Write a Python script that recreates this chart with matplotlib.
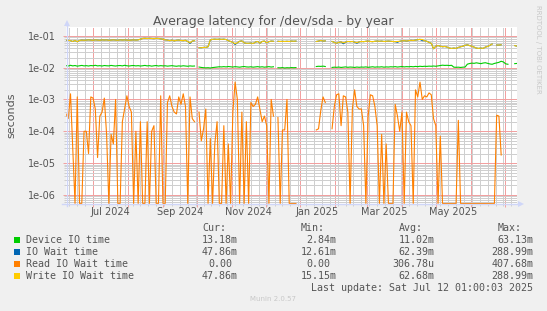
import numpy as np
import pandas as pd
import matplotlib
matplotlib.use('Agg')
import matplotlib.pyplot as plt
import matplotlib.dates as mdates
import matplotlib.transforms as mtransforms
from matplotlib.lines import Line2D
from matplotlib.patches import Rectangle
from matplotlib.ticker import LogLocator, FuncFormatter, NullFormatter

nan = np.nan

# one value every 2 days, starting at the left edge of the graph
start_date = '2024-06-07'
step_days = 2

device_io = [
    0.0115, 0.0112, 0.0118, 0.0113, 0.0116, 0.0111, 0.0114, 0.0117, 0.0113, 0.0115,
    0.0112, 0.0116, 0.0114, 0.0118, 0.0113, 0.0115, 0.0112, 0.0116, 0.0114, 0.0113,
    0.0117, 0.0114, 0.0112, 0.0115, 0.0116, 0.0113, 0.0118, 0.0114, 0.0112, 0.0115,
    0.0116, 0.0113, 0.0115, 0.0112, 0.0114, 0.0117, 0.0113, 0.0115, 0.0111, 0.0114,
    0.0116, 0.0112, 0.0115, 0.0113, 0.0114, 0.0111, 0.0113, 0.0115, 0.0112, 0.0110,
    0.0113, 0.0111, 0.0114, 0.0112, 0.0110, 0.0113, 0.0111, 0.0112, nan, 0.0104,
    0.0101, 0.0099, 0.0098, 0.0099, 0.0097, 0.0100, 0.0102, 0.0104, 0.0106, 0.0105,
    0.0107, 0.0105, 0.0108, 0.0106, 0.0104, 0.0107, 0.0105, 0.0103, 0.0106, 0.0108,
    0.0105, 0.0104, 0.0106, 0.0103, 0.0105, 0.0107, 0.0104, 0.0106, 0.0103, 0.0105,
    0.0107, 0.0104, 0.0106, nan, 0.0099, 0.0098, 0.0100, 0.0097, 0.0099, 0.0098,
    0.0100, 0.0099, 0.0100, nan, nan, nan, nan, nan, nan, nan,
    nan, 0.0108, 0.0110, 0.0109, 0.0111, 0.0108, nan, nan, 0.0101, 0.0103,
    0.0102, 0.0104, 0.0101, 0.0103, 0.0105, 0.0102, 0.0104, 0.0103, 0.0101, 0.0104,
    0.0102, 0.0104, 0.0103, 0.0105, 0.0102, 0.0104, 0.0106, 0.0103, 0.0105, 0.0104,
    0.0106, 0.0103, 0.0105, 0.0104, 0.0106, 0.0105, 0.0107, 0.0104, 0.0106, 0.0108,
    0.0105, 0.0107, 0.0106, 0.0108, 0.0106, 0.0109, 0.0107, 0.0110, 0.0108, 0.0110,
    0.0109, 0.0111, 0.0110, 0.0112, 0.0110, 0.0113, 0.0117, 0.0119, 0.0117, 0.0118,
    0.0116, 0.0118, 0.0103, 0.0102, 0.0103, 0.0101, 0.0103, 0.0104, 0.0128, 0.0134,
    0.0138, 0.0136, 0.0141, 0.0137, 0.0133, 0.0139, 0.0142, 0.0136, 0.0130, 0.0127,
    0.0135, 0.0140, 0.0146, 0.0158, 0.0150, 0.0131, 0.0127, nan, nan, 0.0133,
    0.0135,
]

write_wait = [
    0.074, 0.072, 0.070, 0.066, 0.071, 0.065, 0.071, 0.073, 0.072, 0.073,
    0.074, 0.073, 0.072, 0.074, 0.073, 0.072, 0.074, 0.073, 0.074, 0.072,
    0.073, 0.074, 0.073, 0.072, 0.074, 0.073, 0.074, 0.073, 0.072, 0.073,
    0.074, 0.073, 0.074, 0.078, 0.082, 0.083, 0.082, 0.083, 0.082, 0.081,
    0.083, 0.082, 0.080, 0.078, 0.074, 0.073, 0.070, 0.073, 0.069, 0.072,
    0.073, 0.071, 0.070, 0.072, 0.066, 0.060, 0.068, 0.070, nan, 0.042,
    0.042, 0.043, 0.043, 0.045, 0.074, 0.077, 0.078, 0.077, 0.078, 0.077,
    0.078, 0.076, 0.070, 0.066, 0.062, 0.056, 0.060, 0.067, 0.069, 0.060,
    0.058, 0.058, 0.059, 0.057, 0.063, 0.066, 0.058, 0.066, 0.068, 0.060,
    0.065, 0.068, 0.067, nan, 0.067, 0.066, 0.067, 0.066, 0.067, 0.066,
    0.068, 0.067, 0.068, nan, nan, nan, nan, nan, nan, nan,
    nan, 0.066, 0.068, 0.071, 0.068, 0.069, nan, nan, 0.066, 0.062,
    0.058, 0.062, 0.064, 0.060, 0.063, 0.066, 0.065, 0.066, 0.063, 0.061,
    0.064, 0.066, 0.065, 0.067, 0.068, 0.066, 0.065, 0.067, 0.068, 0.067,
    0.068, 0.066, 0.067, 0.068, 0.067, 0.066, 0.065, 0.066, 0.067, 0.069,
    0.070, 0.068, 0.070, 0.072, 0.071, 0.073, 0.075, 0.077, 0.076, 0.070,
    0.067, 0.062, 0.058, 0.039, 0.047, 0.049, 0.047, 0.045, 0.046, 0.044,
    0.041, 0.040, 0.041, 0.040, 0.043, 0.045, 0.047, 0.050, 0.052, 0.049,
    0.047, 0.044, 0.041, 0.040, 0.041, 0.040, 0.044, 0.046, 0.050, 0.055,
    nan, 0.051, 0.051, 0.052, nan, nan, nan, nan, nan, 0.049,
    0.047,
]

io_wait = [
    0.071, 0.072, 0.070, 0.066, 0.071, 0.065, 0.071, 0.073, 0.072, 0.073,
    0.074, 0.073, 0.072, 0.074, 0.073, 0.072, 0.074, 0.073, 0.074, 0.072,
    0.073, 0.074, 0.073, 0.072, 0.074, 0.073, 0.074, 0.073, 0.072, 0.073,
    0.074, 0.073, 0.074, 0.078, 0.082, 0.083, 0.082, 0.083, 0.082, 0.081,
    0.083, 0.082, 0.080, 0.078, 0.074, 0.073, 0.070, 0.073, 0.069, 0.072,
    0.073, 0.071, 0.070, 0.072, 0.066, 0.057, 0.068, 0.070, nan, 0.042,
    0.042, 0.043, 0.043, 0.045, 0.074, 0.077, 0.078, 0.077, 0.078, 0.077,
    0.078, 0.076, 0.070, 0.066, 0.062, 0.053, 0.060, 0.067, 0.069, 0.060,
    0.058, 0.058, 0.059, 0.057, 0.063, 0.066, 0.058, 0.066, 0.068, 0.060,
    0.065, 0.068, 0.067, nan, 0.067, 0.066, 0.067, 0.066, 0.067, 0.066,
    0.068, 0.067, 0.068, nan, nan, nan, nan, nan, nan, nan,
    nan, 0.066, 0.068, 0.071, 0.068, 0.069, nan, nan, 0.066, 0.062,
    0.058, 0.062, 0.064, 0.056, 0.063, 0.066, 0.065, 0.066, 0.063, 0.058,
    0.064, 0.066, 0.065, 0.067, 0.068, 0.066, 0.065, 0.067, 0.068, 0.067,
    0.068, 0.066, 0.067, 0.068, 0.067, 0.066, 0.065, 0.062, 0.067, 0.069,
    0.070, 0.068, 0.070, 0.072, 0.071, 0.073, 0.075, 0.077, 0.070, 0.070,
    0.067, 0.062, 0.058, 0.039, 0.047, 0.049, 0.047, 0.045, 0.046, 0.044,
    0.041, 0.040, 0.041, 0.040, 0.043, 0.045, 0.047, 0.050, 0.052, 0.049,
    0.047, 0.044, 0.041, 0.040, 0.041, 0.040, 0.044, 0.046, 0.050, 0.055,
    nan, 0.051, 0.051, 0.052, nan, nan, nan, nan, nan, 0.049,
    0.047,
]

read_wait = [
    3.5e-4, 2.5e-4, 1.5e-3, 3e-5, 0, 1.2e-3, 0, 0, 1e-4, 1e-4,
    2e-5, 1.2e-3, 1.1e-3, 5e-4, 1.5e-5, 3e-4, 4e-4, 1.1e-3, 8e-5, 0,
    8e-5, 4e-5, 1e-3, 0, 0, 2e-4, 5e-4, 1.3e-3, 6e-4, 4e-4,
    0, 1e-4, 0, 2e-4, 0, 0, 2e-4, 0, 1e-4, 1.5e-4,
    0, 0, 1.3e-3, 0, 0, 8e-4, 1.3e-3, 6e-4, 4e-4, 3.5e-4,
    1.2e-3, 7e-4, 1.5e-3, 6e-4, 0, 1.2e-3, 2.5e-4, 2e-4, nan, 4e-4,
    5e-5, 1.2e-4, 5e-4, 0, 6e-5, 0, 4e-5, 2e-4, 0, 0,
    1.5e-4, 0, 4e-5, 0, 4e-4, 3.5e-3, 1e-3, 0, 4e-4, 0,
    2e-4, 0, 8e-4, 6e-4, 7e-4, 1.2e-3, 5e-4, 2e-4, 3e-4, 1.5e-4,
    0, 1e-3, 3e-4, nan, 2.7e-4, 0, 1.1e-4, 1.1e-4, 1e-3, 0,
    0, 0, 0, nan, nan, nan, nan, nan, nan, nan,
    nan, 1.1e-4, 1.2e-4, 4.5e-4, 1.2e-3, 8e-4, nan, nan, 1.2e-4, 6e-4,
    1.4e-3, 1.5e-3, 1.5e-4, 1.3e-3, 1.2e-3, 4e-4, 0, 5e-4, 2e-3, 6e-4,
    5e-4, 5e-4, 1.5e-4, 0, 3e-4, 1.4e-3, 1.3e-3, 6e-4, 1.5e-4, 0,
    8e-5, 0, 4e-5, 0, 0, 0, 7e-4, 3e-4, 1e-4, 4e-4,
    0, 4e-4, 2e-4, 1.5e-4, 0, 2e-3, 1.2e-3, 3.5e-3, 1e-3, 1.3e-3,
    1.2e-3, 1.6e-3, 1.4e-3, 2.5e-4, 1.5e-4, 0, 7e-5, 0, 0, 0,
    0, 0, 0, 0, 2.2e-4, 0, 0, 0, 0, 0,
    0, 0, 0, 0, 0, 0, 0, 0, 0, 0,
    0, 3.2e-4, 3e-4, 1.8e-5, nan, nan, nan, nan, nan, nan,
    nan,
]

series_names = ['Device IO time', 'IO Wait time', 'Read IO Wait time', 'Write IO Wait time']
series_colors = ['#00CC00', '#0066B3', '#FF8000', '#FFCC00']
cur_vals = ['13.18m', '47.86m', '0.00', '47.86m']
min_vals = ['2.84m', '12.61m', '0.00', '15.15m']
avg_vals = ['11.02m', '62.39m', '306.78u', '62.68m']
max_vals = ['63.13m', '288.99m', '407.68m', '288.99m']

month_labels = ['Jul 2024', 'Sep 2024', 'Nov 2024', 'Jan 2025', 'Mar 2025', 'May 2025']
month_label_dates = ['2024-07-16', '2024-09-16', '2024-11-16', '2025-01-16', '2025-03-16', '2025-05-16']

x_start = pd.Timestamp('2024-06-07')
x_end = pd.Timestamp('2025-07-12 01:00')
y_lo, y_hi = 5.4e-7, 0.184

W, H = 547, 311
font_col = '#555555'
axis_col = '#CFD6F8'
grid_col = '#CFCFCF'
mgrid_col = '#F2A0A0'


def fx(px):
    return px / W


def fy(py):
    return 1 - py / H


dates = pd.date_range(start_date, periods=len(device_io), freq=f'{step_days}D')

fig = plt.figure(figsize=(W / 100, H / 100), dpi=100, facecolor='#F0F0F0')
ax = fig.add_axes([fx(66), fy(203.5), fx(517) - fx(66), fy(27.3) - fy(203.5)])
ax.set_facecolor('white')

# rrdtool draws zero on a log scale along the bottom edge
read_arr = np.array(read_wait, dtype=float)
read_arr = np.where(read_arr > 0, read_arr, np.where(np.isnan(read_arr), nan, y_lo))

lw = 0.8
ax.plot(dates, device_io, color=series_colors[0], lw=lw, zorder=3)
ax.plot(dates, io_wait, color=series_colors[1], lw=lw, zorder=3)
ax.plot(dates, read_arr, color=series_colors[2], lw=lw, zorder=3)
ax.plot(dates, write_wait, color=series_colors[3], lw=lw, zorder=3)

ax.set_yscale('log')
ax.set_ylim(y_lo, y_hi)
ax.set_xlim(x_start, x_end)

ax.yaxis.set_major_locator(LogLocator(base=10, numticks=20))
ax.yaxis.set_minor_locator(LogLocator(base=10, subs=np.arange(2, 10), numticks=20))
ax.yaxis.set_major_formatter(FuncFormatter(lambda v, p: '%.0e' % v))
ax.yaxis.set_minor_formatter(NullFormatter())

ax.xaxis.set_major_locator(mdates.MonthLocator())
ax.xaxis.set_minor_locator(mdates.WeekdayLocator(byweekday=mdates.MO))
ax.xaxis.set_major_formatter(NullFormatter())

ax.grid(which='minor', color=grid_col, lw=0.72, ls=(0, (1, 1)), antialiased=False)
ax.grid(which='major', color=mgrid_col, lw=0.72, ls=(0, (1, 1)), antialiased=False)
ax.set_axisbelow(True)

ax.tick_params(which='major', axis='y', length=2, width=0.7, color=mgrid_col,
               labelsize=7, labelcolor=font_col, pad=5)
ax.tick_params(which='minor', axis='y', length=1.5, width=0.7, color=grid_col)
ax.tick_params(which='major', axis='x', length=2, width=0.7, color=mgrid_col)
ax.tick_params(which='minor', axis='x', length=1.5, width=0.7, color=grid_col)

for s in ax.spines.values():
    s.set_visible(False)

# month labels sit in the middle of their month, like rrdtool does
lab_tr = mtransforms.blended_transform_factory(ax.transData, fig.transFigure)
for lab, d in zip(month_labels, month_label_dates):
    ax.text(pd.Timestamp(d), fy(212), lab, transform=lab_tr, ha='center', va='center',
            fontsize=7, color=font_col, clip_on=False)

# axis lines with arrows
fig.add_artist(Line2D([fx(66.5), fx(66.5)], [fy(206), fy(25)], color=axis_col, lw=1))
fig.add_artist(Line2D([fx(62), fx(519)], [fy(203.5), fy(203.5)], color=axis_col, lw=1))
fig.add_artist(Line2D([fx(66.5)], [fy(23)], marker='^', ms=5, color=axis_col, mew=0))
fig.add_artist(Line2D([fx(521)], [fy(203.5)], marker='>', ms=5, color=axis_col, mew=0))

fig.text(fx(273.5), fy(25), 'Average latency for /dev/sda - by year', ha='center',
         va='baseline', fontsize=9, color=font_col)
fig.text(fx(11), fy(115), 'seconds', rotation=90, ha='center', va='center',
         fontsize=8, color=font_col)
fig.text(fx(538), fy(5), 'RRDTOOL / TOBI OETIKER', rotation=270, ha='center', va='top',
         fontsize=5, color='#C8C8C8')
fig.text(fx(273.5), fy(299), 'Munin 2.0.57', ha='center', va='center',
         fontsize=5, color='#C8C8C8')

# legend block
mono = 'DejaVu Sans Mono'
lfs = 7.2
col_right = [238, 336.7, 434.7, 533.3]
headers = ['Cur:', 'Min:', 'Avg:', 'Max:']
for xr, h in zip(col_right, headers):
    fig.text(fx(xr - 12), fy(227.7), h, ha='right', va='center', family=mono,
             fontsize=lfs, color=font_col)

row_y = [239.7, 251.7, 263.7, 275.7]
for k, name in enumerate(series_names):
    y = row_y[k]
    fig.add_artist(Rectangle((fx(14.3), fy(y + 3)), fx(6), fy(0) - fy(6),
                             transform=fig.transFigure, color=series_colors[k], lw=0))
    fig.text(fx(26.3), fy(y), name, ha='left', va='center', family=mono,
             fontsize=lfs, color=font_col)
    for xr, vals in zip(col_right, [cur_vals, min_vals, avg_vals, max_vals]):
        v = vals[k]
        shift = 0 if v[-1].isalpha() else 6
        fig.text(fx(xr - shift), fy(y), v, ha='right', va='center', family=mono,
                 fontsize=lfs, color=font_col)

fig.text(fx(533.3), fy(287.7), 'Last update: Sat Jul 12 01:00:03 2025', ha='right',
         va='center', family=mono, fontsize=lfs, color=font_col)

fig.savefig('out.png', dpi=100, facecolor=fig.get_facecolor())
